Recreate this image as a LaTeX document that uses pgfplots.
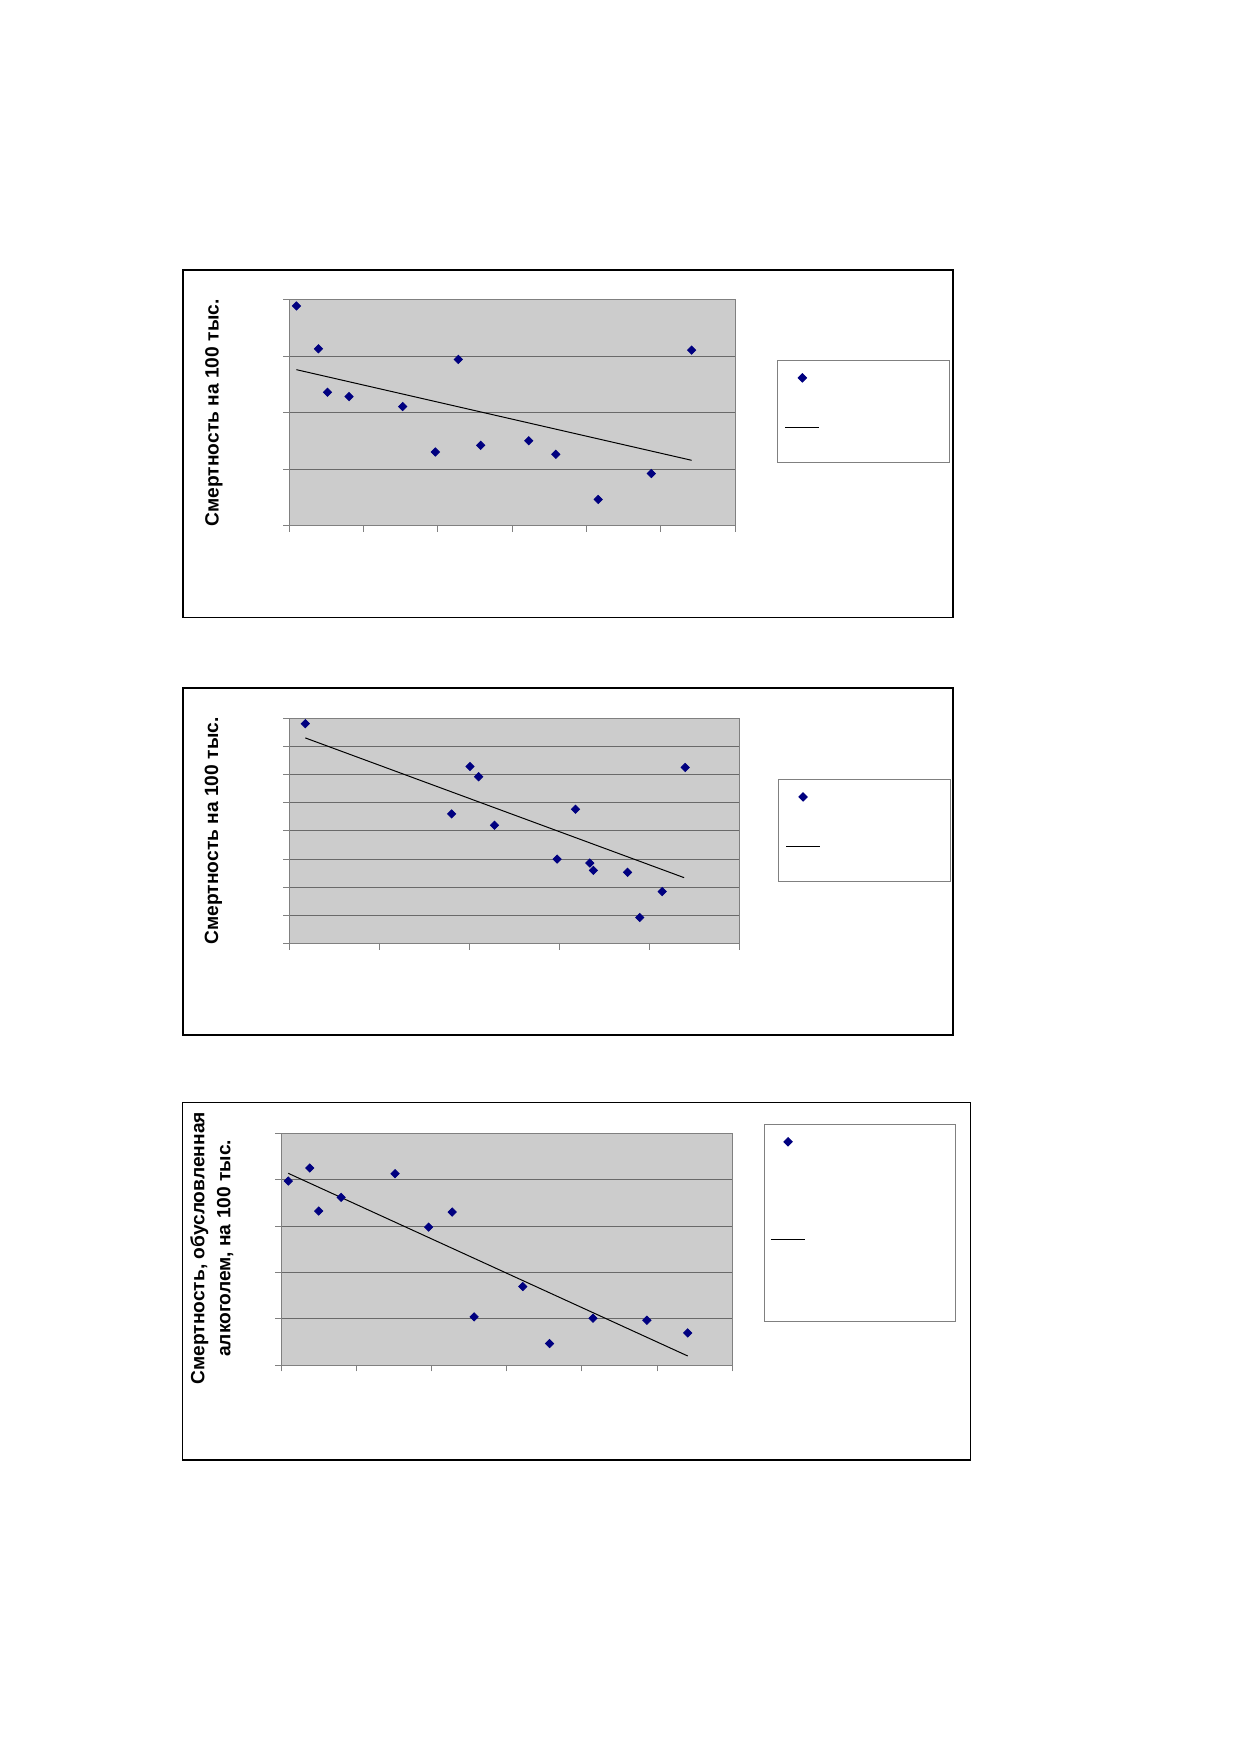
\documentclass[border=0pt]{standalone}
\usepackage{fontspec}
\setmainfont{Liberation Sans}
\usepackage{pgfplots}
\pgfplotsset{compat=1.18}
\definecolor{plotgray}{RGB}{204,204,204}
\definecolor{gridgray}{RGB}{105,105,105}
\definecolor{axgray}{RGB}{128,128,128}
\definecolor{navyc}{RGB}{0,0,128}
\pgfplotsset{
  myax/.style={
    scale only axis, anchor=south west,
    axis background/.style={fill=plotgray},
    axis line style={draw=axgray, line width=0.5pt},
    ymajorgrids, major grid style={draw=gridgray, line width=0.5pt},
    tick align=outside, tick pos=left, major tick length=3pt,
    tick style={draw=axgray, line width=0.5pt},
    xticklabels={}, yticklabels={},
    legend cell align=left,
  },
  sc/.style={only marks, mark=square*, mark size=1.45pt,
    mark options={rotate=45, fill=navyc, draw=navyc}},
  tr/.style={black, line width=0.5pt, no marks},
}
\begin{document}
\begin{tikzpicture}
\path (0,0) rectangle (619.5pt,876pt);
% ---------------- Chart 1 ----------------
\draw[black, line width=0.7pt] (91.4pt,567.15pt) rectangle (476.5pt,741pt);
\node[rotate=90, font=\fontsize{9.6}{13}\selectfont\bfseries] at (106.95pt,669.55pt) {Смертность на 100 тыс.};
\begin{axis}[myax, at={(144.65pt,613.15pt)}, width=222.85pt, height=112.85pt,
  xmin=0, xmax=6, ymin=0, ymax=4, xtick={0,...,6}, ytick={0,...,4},
  legend style={at={(1.0949,0.7324)}, anchor=north west, draw=axgray, line width=0.5pt, fill=white,
    inner xsep=3.5pt, inner ysep=0pt, row sep=-1pt, column sep=0pt,
    nodes={inner sep=0pt, text depth=, text height=}}]
\addplot[sc] coordinates {(0.096,3.894) (0.392,3.135) (0.515,2.365) (0.804,2.288) (1.526,2.112) (1.966,1.306) (2.275,2.947) (2.577,1.424) (3.223,1.506) (3.588,1.265) (4.158,0.465) (4.873,0.924) (5.416,3.112)};
\addlegendentry{\rule[-8.5pt]{0pt}{17pt}\hspace*{61.5pt}}
\addplot[tr] coordinates {(0.096,2.765) (5.416,1.159)};
\addlegendentry{\rule[-17.5pt]{0pt}{35pt}\hspace*{61.5pt}}
\end{axis}
% ---------------- Chart 2 ----------------
\draw[black, line width=0.7pt] (91.5pt,358.4pt) rectangle (476.5pt,532pt);
\node[rotate=90, font=\fontsize{9.6}{13}\selectfont\bfseries] at (106.7pt,460.55pt) {Смертность на 100 тыс.};
\begin{axis}[myax, at={(144.5pt,404.15pt)}, width=225.1pt, height=112.85pt,
  xmin=0, xmax=5, ymin=0, ymax=8, xtick={0,...,5}, ytick={0,...,8},
  legend style={at={(1.0862,0.7280)}, anchor=north west, draw=axgray, line width=0.5pt, fill=white,
    inner xsep=3.5pt, inner ysep=0pt, row sep=-1pt, column sep=0pt,
    nodes={inner sep=0pt, text depth=, text height=}}]
\addplot[sc] coordinates {(0.181,7.8) (2.010,6.282) (2.106,5.918) (4.400,6.247) (1.806,4.6) (3.182,4.765) (2.282,4.2) (2.978,3.0) (3.341,2.859) (3.381,2.6) (3.760,2.529) (4.145,1.847) (3.896,0.929)};
\addlegendentry{\rule[-8.5pt]{0pt}{17pt}\hspace*{61.5pt}}
\addplot[tr] coordinates {(0.181,7.294) (4.388,2.341)};
\addlegendentry{\rule[-17.5pt]{0pt}{35pt}\hspace*{61.5pt}}
\end{axis}
% ---------------- Chart 3 ----------------
\draw[black, line width=0.7pt] (91.15pt,146pt) rectangle (485.25pt,324.75pt);
\node[rotate=90, align=center, font=\fontsize{9.6}{13}\selectfont\bfseries] at (105.9pt,251.85pt) {Смертность, обусловленная\\алкоголем, на 100 тыс.};
\begin{axis}[myax, at={(140.5pt,193.35pt)}, width=225.65pt, height=116pt,
  xmin=0, xmax=6, ymin=0, ymax=5, xtick={0,...,6}, ytick={0,...,5},
  legend style={at={(1.0702,1.0388)}, anchor=north west, draw=axgray, line width=0.5pt, fill=white,
    inner xsep=3pt, inner ysep=0pt, row sep=-0.5pt, column sep=0pt,
    nodes={inner sep=0pt, text depth=, text height=}}]
\addplot[sc] coordinates {(0.097,3.971) (0.383,4.252) (0.501,3.324) (0.800,3.619) (1.517,4.129) (1.962,2.978) (2.276,3.302) (2.568,1.043) (3.215,1.698) (3.570,0.468) (4.148,1.014) (4.864,0.971) (5.407,0.698)};
\addlegendentry{\rule[-8.5pt]{0pt}{17pt}\hspace*{72pt}}
\addplot[tr] coordinates {(0.097,4.137) (5.407,0.201)};
\addlegendentry{\rule[-41pt]{0pt}{82pt}\hspace*{72pt}}
\end{axis}
\end{tikzpicture}
\end{document}
